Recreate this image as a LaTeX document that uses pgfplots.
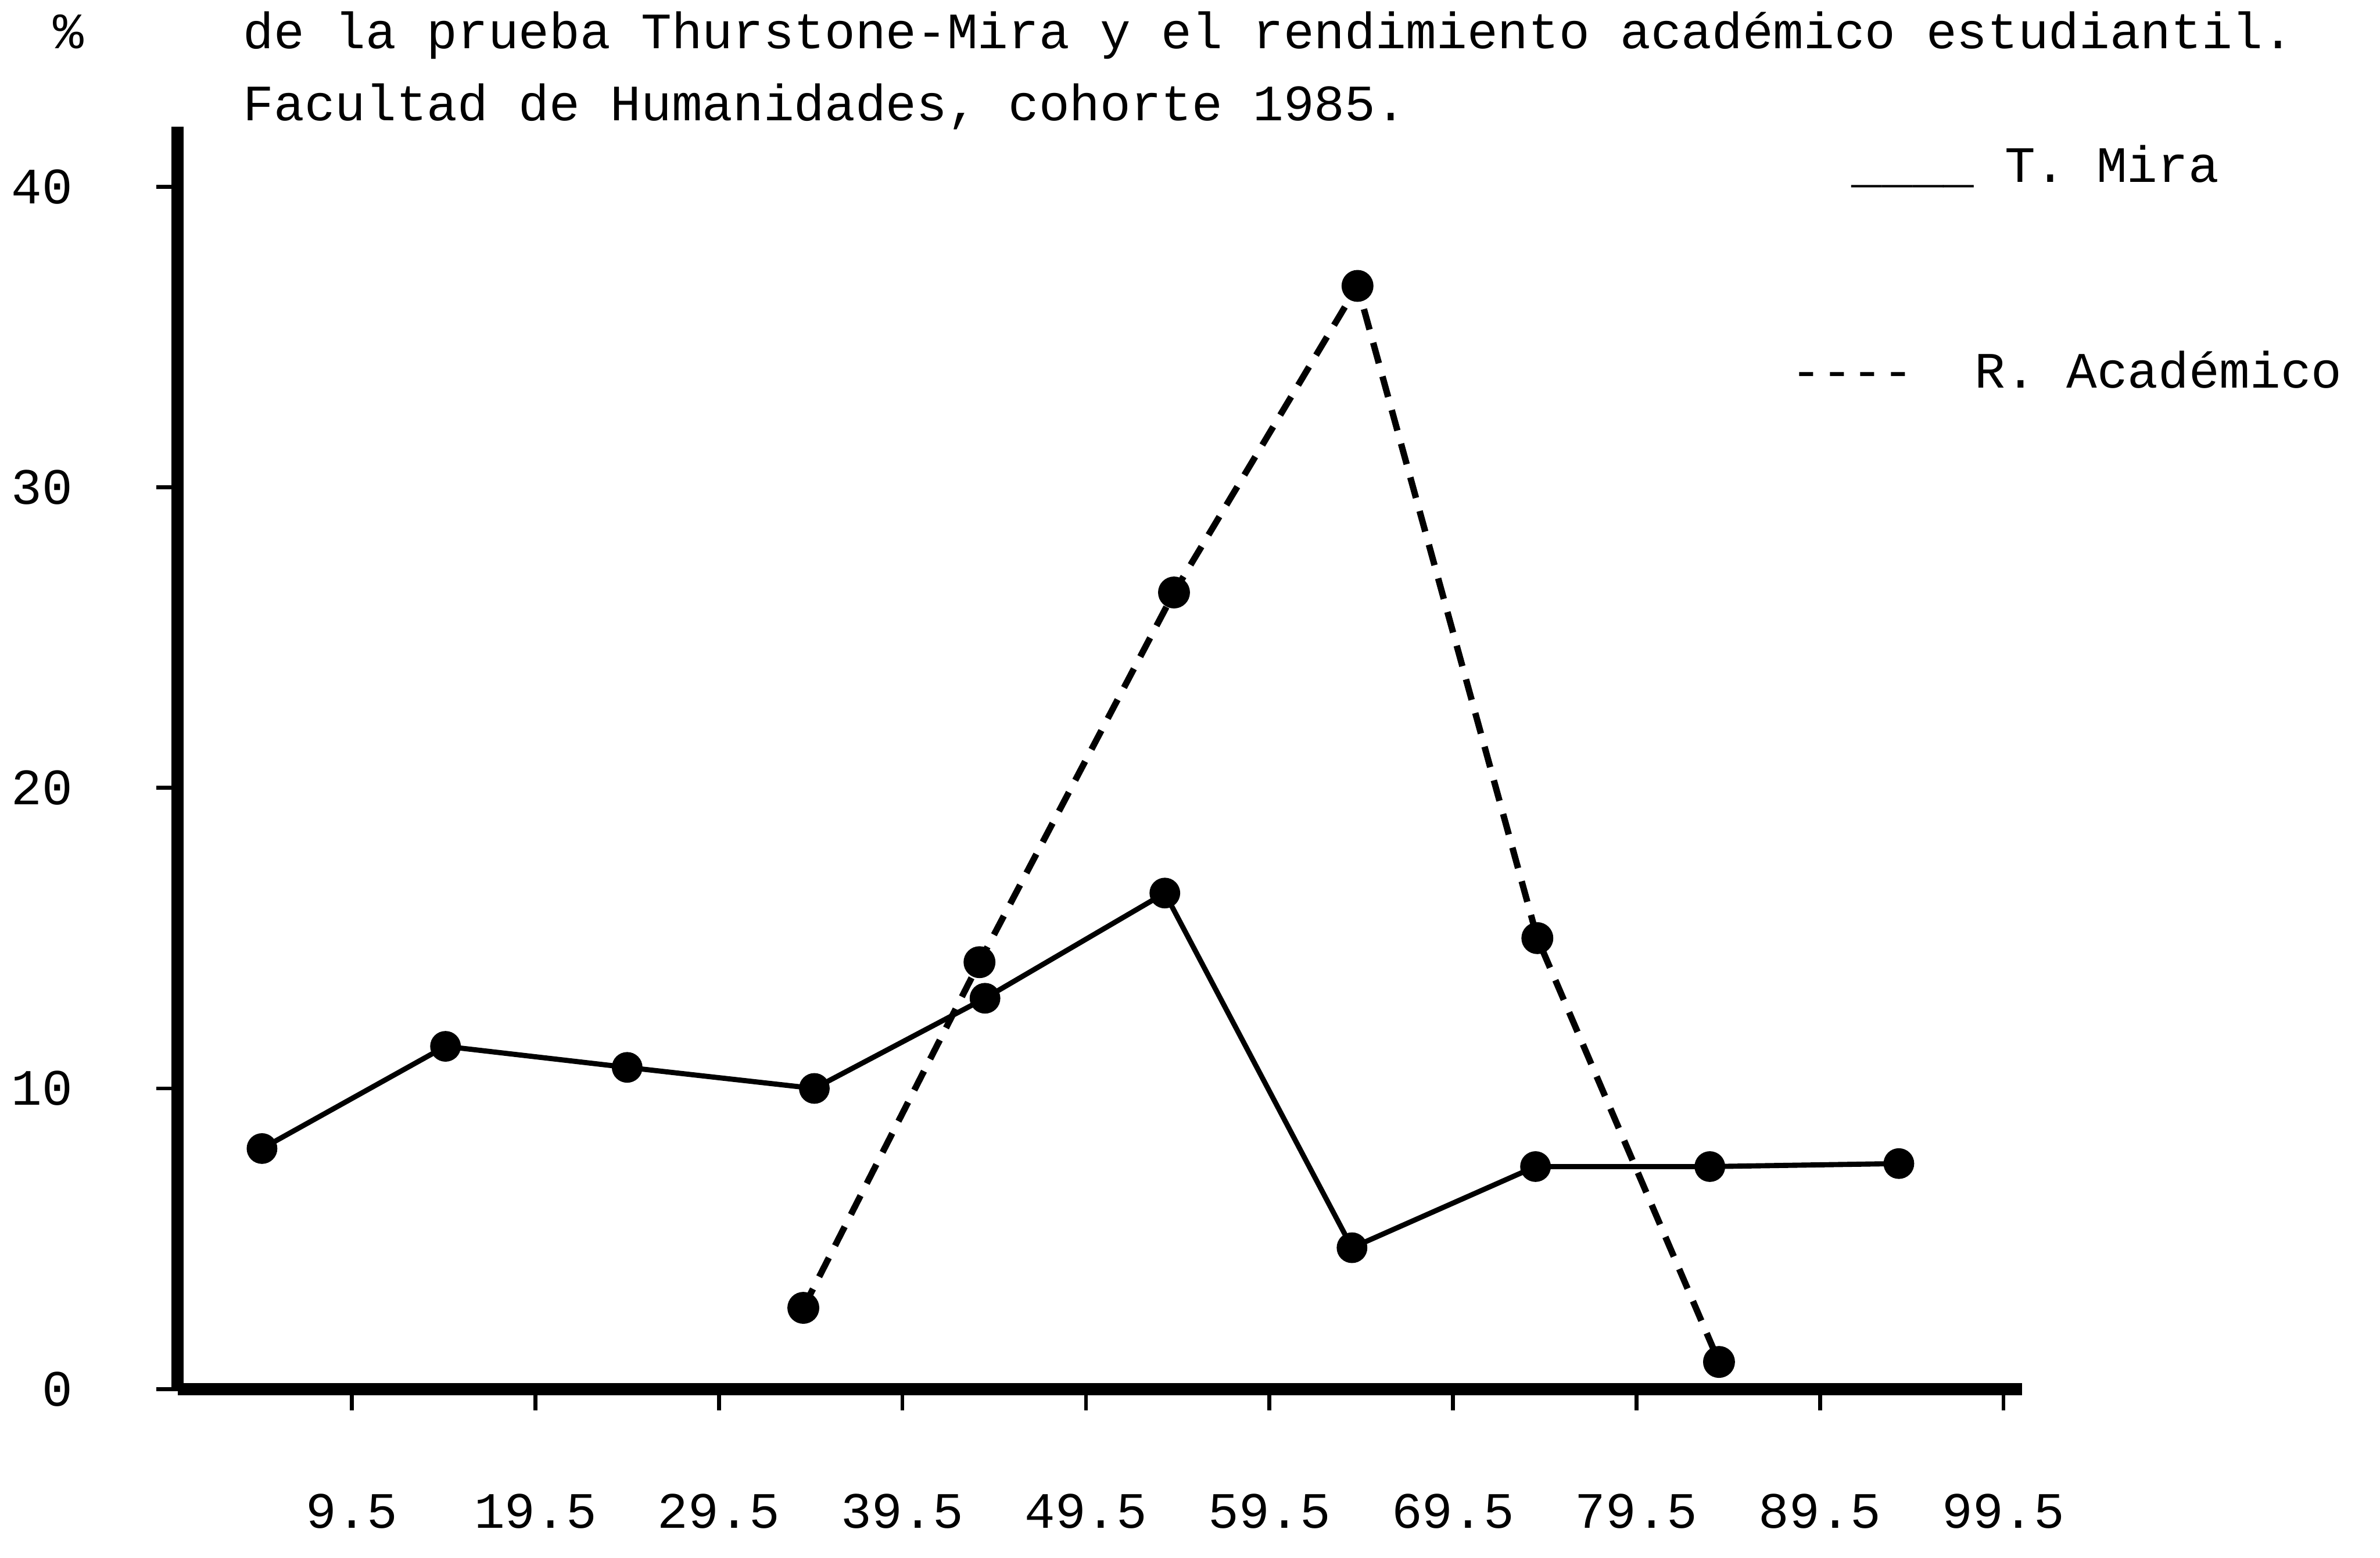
\documentclass[border=0pt]{standalone}
\usepackage{fontspec}
\setmainfont{Liberation Mono}
\newfontfamily\tw{Liberation Mono}
\usepackage{pgfplots}
\pgfplotsset{compat=1.18}
\begin{document}
\begin{tikzpicture}
\begin{axis}[
  scale only axis,
  width=607.5pt, height=415.8pt,
  xmin=0, xmax=100.5, ymin=0, ymax=42,
  axis x line=bottom, axis y line=left,
  axis line style={-, line width=4pt},
  xtick={9.5,19.5,29.5,39.5,49.5,59.5,69.5,79.5,89.5,99.5},
  xticklabels={9.5,19.5,29.5,39.5,49.5,59.5,69.5,79.5,89.5,99.5},
  ytick={0,10,20,30,40},
  yticklabels={0,10,20,30,40},
  tick align=outside,
  major tick length=7pt,
  tick style={line width=1.3pt, black},
  ticklabel style={font=\fontsize{16.8}{20}\tw},
  /pgf/number format/assume math mode=true,
  xticklabel style={yshift=-24pt},
  yticklabel style={xshift=-24pt},
  clip=false,
]
\addplot[black, line width=1.7pt, mark=*, mark size=4.2pt, mark options={solid}]
 coordinates {(4.6,8.0) (14.6,11.4) (24.5,10.7) (34.7,10.0) (44.0,13.0) (53.8,16.5) (64.0,4.7) (74.0,7.4) (83.5,7.4) (93.8,7.5)};
\addplot[black, line width=2.1pt, dash pattern=on 7pt off 4.5pt, mark=*, mark size=4.2pt, mark options={solid}]
 coordinates {(34.1,2.7) (43.7,14.2) (54.3,26.5) (64.3,36.7) (74.1,15.0) (84.0,0.9)};
\node[anchor=base west, font=\fontsize{16.8}{20}\tw, inner sep=0pt] at (axis cs:3.55,44.6) {de la prueba Thurstone-Mira y el rendimiento académico estudiantil.};
\node[anchor=base west, font=\fontsize{16.8}{20}\tw, inner sep=0pt] at (axis cs:3.55,42.2) {Facultad de Humanidades, cohorte 1985.};
\node[anchor=base west, font=\fontsize{16.8}{20}\tw, inner sep=0pt] at (axis cs:-6.8,44.6) {\%};
\node[anchor=base west, font=\fontsize{16.8}{20}\tw, inner sep=0pt] at (axis cs:91.2,40.15) {\_\_\_\_ T. Mira};
\node[anchor=base west, font=\fontsize{16.8}{20}\tw, inner sep=0pt] at (axis cs:87.9,33.3) {\mbox{-}\mbox{-}\mbox{-}\mbox{-}\ \ R. Académico};
\end{axis}
\pgfresetboundingbox
\path[use as bounding box] (-58.5pt,-55.5pt) rectangle (725.5pt,457.5pt);
\end{tikzpicture}
\end{document}
